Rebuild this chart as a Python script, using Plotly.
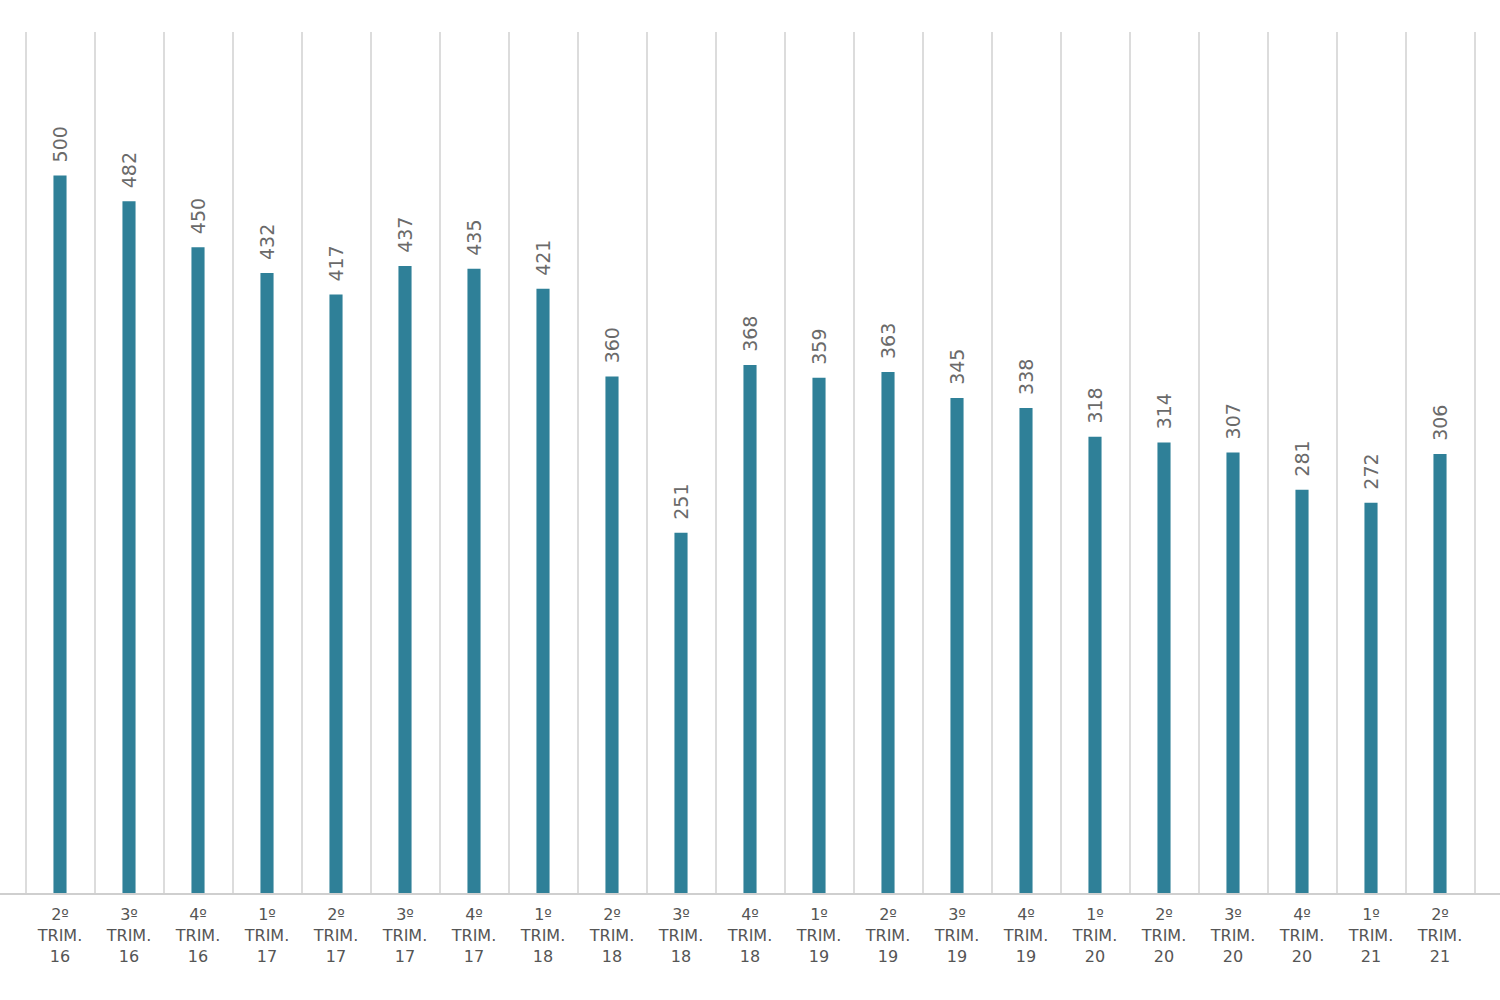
import plotly.graph_objects as go

quarters = ["1º", "2º", "3º", "4º", "1º", "2º", "3º", "4º", "1º", "2º", "3º", "4º",
            "1º", "2º", "3º", "4º", "1º", "2º", "3º", "4º", "1º", "2º", "3º"]
years = ["16", "16", "16", "16", "17", "17", "17", "17", "18", "18", "18", "18",
         "19", "19", "19", "19", "20", "20", "20", "20", "21", "21", "21"]
values = [479, 500, 482, 450, 432, 417, 437, 435, 421, 360, 251, 368,
          359, 363, 345, 338, 318, 314, 307, 281, 272, 306, 309]

categories = [f"{q}<br>TRIM.<br>{y}" for q, y in zip(quarters, years)]

BAR_COLOR = "#2F8098"
LABEL_GAP = 7  # value units between bar top and its label

fig = go.Figure()
fig.add_trace(go.Bar(
    x=categories, y=values, marker=dict(color=BAR_COLOR, line=dict(width=0)),
    hoverinfo="x+y", showlegend=False,
))
fig.add_trace(go.Bar(
    x=categories, y=[v + LABEL_GAP for v in values],
    marker=dict(color="rgba(0,0,0,0)", line=dict(width=0)),
    text=[str(v) for v in values], textposition="outside", textangle=-90,
    constraintext="none",
    textfont=dict(family="DejaVu Sans", size=19, color="#6a6a6a"),
    cliponaxis=False, hoverinfo="skip", showlegend=False,
))

n_visible = 1500 / 69.0
r0 = 9 / 69.0
fig.update_layout(
    width=1500, height=1000,
    margin=dict(l=0, r=0, t=32, b=107),
    paper_bgcolor="white", plot_bgcolor="white",
    barmode="overlay", bargap=0.81,
    xaxis=dict(
        type="category", range=[r0, r0 + n_visible],
        tickson="boundaries", showgrid=True, gridcolor="#dcdcdc", gridwidth=1.5,
        showline=True, linecolor="#cfcfcf", linewidth=1.5,
        ticks="", ticklabelstandoff=6, tickangle=0,
        tickfont=dict(family="DejaVu Sans", size=16, color="#555555"),
        fixedrange=True,
    ),
    yaxis=dict(
        range=[0, 600], showgrid=False, zeroline=False, showticklabels=False,
        showline=False, fixedrange=True,
    ),
)

fig.write_html("out.html")
